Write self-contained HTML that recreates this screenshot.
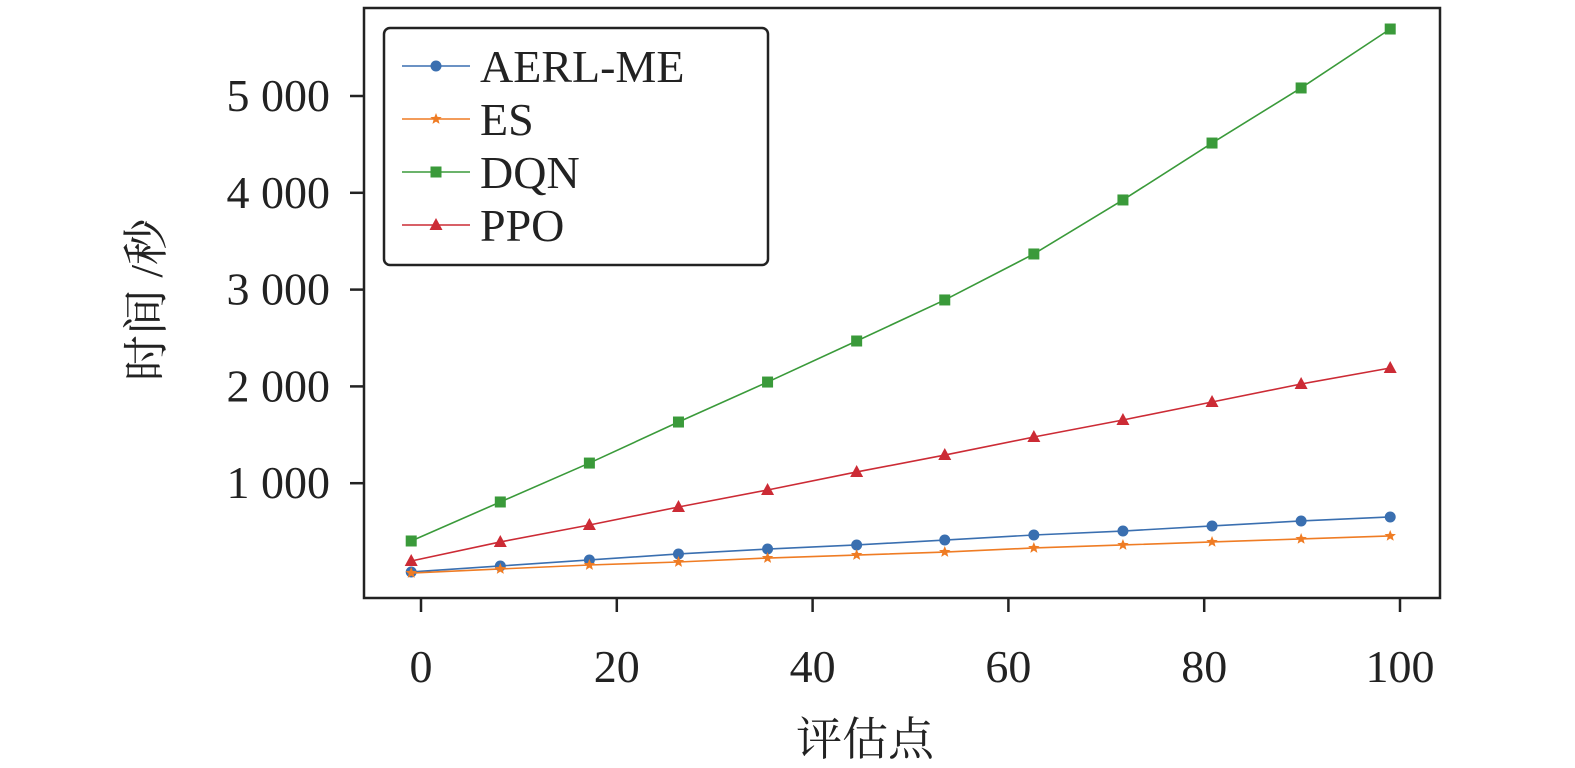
<!DOCTYPE html>
<html><head><meta charset="utf-8"><style>
html,body{margin:0;padding:0;background:#fff;}
svg text{font-family:"Liberation Serif","Noto Serif CJK SC",serif;fill:#222;}
</style></head><body>
<svg id="chart" width="1575" height="763" xmlns="http://www.w3.org/2000/svg">
<rect x="364" y="8" width="1076" height="590" fill="none" stroke="#222" stroke-width="2.5"/>
<g id="xt"></g>
<g id="yt"></g>
<g id="series"></g>
<text x="865" y="755" font-size="46" text-anchor="middle">评估点</text>
<text transform="translate(162,300) rotate(-90)" font-size="46" text-anchor="middle">时间 /秒</text>
<g id="legend">
<rect x="384" y="28" width="384" height="237" rx="6" fill="#fff" stroke="#222" stroke-width="2.5"/>
</g>
</svg>
<script>
const xValues=[-1,8.1,17.2,26.3,35.4,44.5,53.5,62.6,71.7,80.8,89.9,99];
const aerl=[83,145,207,269,320,362,413,465,506,558,610,651];
const es=[72,114,155,186,227,258,289,331,362,393,424,455];
const dqn=[403,806,1208,1632,2045,2469,2893,3368,3926,4514,5083,5692];
const ppo=[196,393,568,754,930,1116,1291,1477,1653,1839,2025,2190];
const xTicks=[0,20,40,60,80,100];
const yTicks=[1000,2000,3000,4000,5000];
const yTickLabels=["1 000","2 000","3 000","4 000","5 000"];
const seriesNames=["AERL-ME","ES","DQN","PPO"];
const NS="http://www.w3.org/2000/svg";
const X=v=>421+v*9.79;
const Y=v=>580-v*0.0968;
function mk(tag,attrs,parent){const e=document.createElementNS(NS,tag);for(const k in attrs)e.setAttribute(k,attrs[k]);parent.appendChild(e);return e;}
const xt=document.getElementById('xt'),yt=document.getElementById('yt');
xTicks.forEach(t=>{
 const l=mk('line',{x1:X(t),x2:X(t),y1:598,y2:612,stroke:'#222','stroke-width':2.5},xt);
 
 
 const tx=mk('text',{x:X(t),y:682,'font-size':46,'text-anchor':'middle'},xt);tx.textContent=t;
 
 
});
yTicks.forEach((t,i)=>{
 const l=mk('line',{x1:350,x2:364,y1:Y(t),y2:Y(t),stroke:'#222','stroke-width':2.5},yt);
 
 
 const tx=mk('text',{x:330,y:Y(t)+15,'font-size':46,'text-anchor':'end'},yt);tx.textContent=yTickLabels[i];
 
 
});
const colors=['#3a6fb0','#ef7c24','#3a9a3a','#cc2b35'];
const markers=['circle','star','square','triangle'];
function marker(type,cx,cy,c,p){
 if(type==='circle')return mk('circle',{cx,cy,r:5.5,fill:c},p);
 if(type==='square')return mk('rect',{x:cx-5.5,y:cy-5.5,width:11,height:11,fill:c},p);
 if(type==='triangle')return mk('polygon',{points:`${cx},${cy-7} ${cx-6.5},${cy+5} ${cx+6.5},${cy+5}`,fill:c},p);
 let pts=[];for(let k=0;k<10;k++){const r=k%2?2.6:6,a=-Math.PI/2+k*Math.PI/5;pts.push((cx+r*Math.cos(a))+','+(cy+r*Math.sin(a)));}
 return mk('polygon',{points:pts.join(' '),fill:c},p);
}
const sg=document.getElementById('series');
[aerl,es,dqn,ppo].forEach((d,si)=>{
 const g=mk('g',{},sg);
 
 
 const pl=mk('polyline',{points:d.map((v,i)=>X(xValues[i])+','+Y(v)).join(' '),fill:'none',stroke:colors[si],'stroke-width':1.6},g);
 
 
 d.forEach((v,i)=>{const m=marker(markers[si],X(xValues[i]),Y(v),colors[si],g);
  
  });
});
const lg=document.getElementById('legend');
seriesNames.forEach((n,i)=>{
 const y=66+i*53;
 const g=mk('g',{},lg);
 
 
 mk('line',{x1:402,x2:470,y1:y,y2:y,stroke:colors[i],'stroke-width':1.6},g);
 marker(markers[i],436,y,colors[i],g);
 const t=mk('text',{x:480,y:y+16,'font-size':46},g);t.textContent=n;
});
</script>
</body></html>
